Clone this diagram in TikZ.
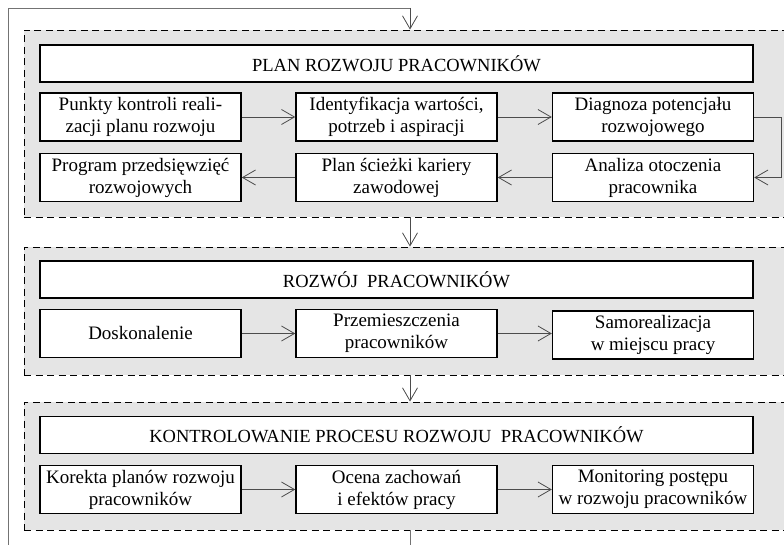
\documentclass[tikz,border=0pt]{standalone}
\usepackage{fontspec}
\setmainfont{Liberation Serif}
\usetikzlibrary{arrows.meta,calc}
\tikzset{
	grupa/.style={draw, fill=black!10, line width=0.8pt, dash pattern=on 7pt off 4.5pt, minimum width=772pt, inner sep=0pt},
	tytul/.style={draw, fill=white, line width=1.5pt, minimum width=713pt, minimum height=37pt, inner sep=0pt, font=\fontsize{18.5}{21}\selectfont},
	krok/.style={draw, fill=white, line width=1.5pt, minimum width=201pt, minimum height=48pt, inner sep=0pt, align=center, font=\fontsize{19}{22}\selectfont},
	strz/.style={draw=black!70, line width=0.8pt, -{Straight Barb[length=13pt,width=15pt]}},
	petla/.style={draw=black!55, line width=0.8pt}
}
\begin{document}
\begin{tikzpicture}[x=1pt, y=-1pt]
		%%%%% START %%%%%
		\useasboundingbox (0, 0) rectangle (784, 545);
		
		\node[grupa, minimum height=187pt] (g1) at (410, 123.5) {};
		\node[grupa, minimum height=128pt] (g2) at (410, 311) {};
		\node[grupa, minimum height=128pt] (g3) at (410, 466) {};
		
		\node[tytul] (plan) at (396.5, 63.5) {PLAN ROZWOJU PRACOWNIKÓW};
		\node[krok] (punkty) at (140.5, 117) {Punkty kontroli reali-\\zacji planu rozwoju};
		\node[krok] (ident) at (396.5, 117) {Identyfikacja wartości,\\potrzeb i aspiracji};
		\node[krok] (diagnoza) at (653, 117) {Diagnoza potencjału\\rozwojowego};
		\node[krok] (program) at (140.5, 177.5) {Program przedsięwzięć\\rozwojowych};
		\node[krok] (sciezka) at (396.5, 177.5) {Plan ścieżki kariery\\zawodowej};
		\node[krok] (analiza) at (653, 177.5) {Analiza otoczenia\\pracownika};
		
		\node[tytul] (rozwoj) at (396.5, 279.5) {ROZWÓJ~~PRACOWNIKÓW};
		\node[krok] (doskon) at (140.5, 333.5) {Doskonalenie};
		\node[krok] (przem) at (396.5, 333.5) {Przemieszczenia\\pracowników};
		\node[krok] (samo) at (653, 335) {Samorealizacja\\w miejscu pracy};
		
		\node[tytul] (kontrola) at (396.5, 435) {KONTROLOWANIE PROCESU ROZWOJU~~PRACOWNIKÓW};
		\node[krok] (korekta) at (140.5, 489.5) {Korekta planów rozwoju\\pracowników};
		\node[krok] (ocena) at (396.5, 489.5) {Ocena zachowań\\i efektów pracy};
		\node[krok] (monit) at (653, 489.5) {Monitoring postępu\\w rozwoju pracowników};
		
		\draw[strz] (punkty) -- (ident);
		\draw[strz] (ident) -- (diagnoza);
		\draw[strz] (diagnoza.east) -- ++(27, 0) |- (analiza.east);
		\draw[strz] (analiza) -- (sciezka);
		\draw[strz] (sciezka) -- (program);
		
		\draw[strz] (doskon) -- (przem);
		\draw[strz] (przem) -- (samo.west |- przem);
		
		\draw[strz] (korekta) -- (ocena);
		\draw[strz] (ocena) -- (monit);
		
		\draw[strz] (g1) -- (g2);
		\draw[strz] (g2) -- (g3);
		
		\coordinate (dol) at (410, 548);
		\coordinate (rog) at (8, 8);
		\draw[petla] (g3.south) -- (dol);
		\draw[petla] (8, 548) -- (rog) -- (rog -| g1.north);
		\draw[strz] (rog -| g1.north) -- (g1.north);
		
		%%%%% END %%%%%
\end{tikzpicture}
\end{document}
